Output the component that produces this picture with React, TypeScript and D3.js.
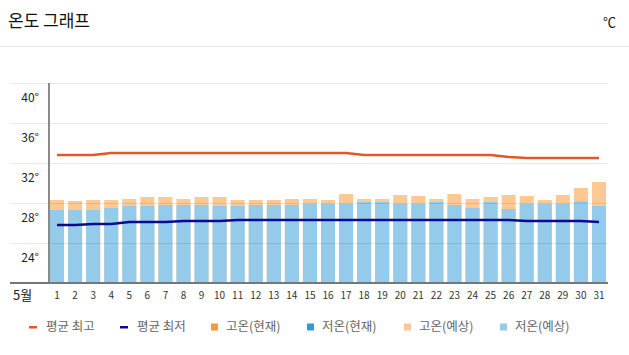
import React from "react";
import * as d3 from "d3";

const days = d3.range(1, 32).map(String);
const highForecast = [29.8, 29.7, 29.8, 29.8, 29.9, 30.1, 30.1, 29.9, 30.1, 30.1, 29.8, 29.8, 29.8, 29.9, 29.9, 29.8, 30.4, 29.9, 29.9, 30.3, 30.2, 29.9, 30.4, 29.9, 30.1, 30.3, 30.2, 29.8, 30.3, 31.0, 31.6];
const lowForecast = [28.8, 28.8, 28.8, 29.0, 29.2, 29.2, 29.3, 29.3, 29.3, 29.2, 29.2, 29.3, 29.3, 29.3, 29.4, 29.4, 29.4, 29.6, 29.6, 29.4, 29.4, 29.6, 29.3, 29.0, 29.6, 28.9, 29.4, 29.4, 29.4, 29.7, 29.2];
const avgMax = [34.3, 34.3, 34.3, 34.5, 34.5, 34.5, 34.5, 34.5, 34.5, 34.5, 34.5, 34.5, 34.5, 34.5, 34.5, 34.5, 34.5, 34.3, 34.3, 34.3, 34.3, 34.3, 34.3, 34.3, 34.3, 34.1, 34.0, 34.0, 34.0, 34.0, 34.0];
const avgMin = [27.3, 27.3, 27.4, 27.4, 27.6, 27.6, 27.6, 27.7, 27.7, 27.7, 27.8, 27.8, 27.8, 27.8, 27.8, 27.8, 27.8, 27.8, 27.8, 27.8, 27.8, 27.8, 27.8, 27.8, 27.8, 27.8, 27.7, 27.7, 27.7, 27.7, 27.6];
const yTicks = [40, 36, 32, 28, 24];
const gridValues = [41.5, 37.5, 33.5, 29.5, 25.5];
const yDomain = [21.5, 41.5];
const monthLabel = "5월";
const title = "온도 그래프";
const unit = "℃";
const legendItems = [
  { label: "평균 최고", color: "#e0592a", kind: "line" },
  { label: "평균 최저", color: "#0a0a8c", kind: "line" },
  { label: "고온(현재)", color: "#f7993b", kind: "rect" },
  { label: "저온(현재)", color: "#2f9ad6", kind: "rect" },
  { label: "고온(예상)", color: "#fdc892", kind: "rect" },
  { label: "저온(예상)", color: "#94cbea", kind: "rect" },
];

const W = 629, H = 355;
const font = "'Noto Sans CJK KR', 'Noto Sans', sans-serif";

export default function App() {
  const x = d3.scaleBand().domain(days).range([48, 608]).paddingInner(4 / 18).paddingOuter(2 / 18);
  const y = d3.scaleLinear().domain(yDomain).range([283, 83]);
  const cx = (i: number) => (x(days[i]) as number) + x.bandwidth() / 2;
  const line = d3.line<number>().x((_, i) => cx(i)).y((d) => y(d));
  const legendX = [29, 120, 211, 307, 404, 500];

  return (
    <svg width={W} height={H} style={{ position: "absolute", left: 0, top: 0, fontFamily: font }}>
      <rect width={W} height={H} fill="#fff" />
      <text x={8} y={27} fontSize={17} fill="#111">{title}</text>
      <text x={616} y={27} fontSize={13} fill="#111" textAnchor="end">{unit}</text>
      <line x1={0} x2={W} y1={46.5} y2={46.5} stroke="#e3e3e3" />

      {days.map((d, i) => (
        <g key={d}>
          <rect x={x(d)} width={x.bandwidth()} y={y(highForecast[i])} height={y(yDomain[0]) - y(highForecast[i])} fill="#fdc892" />
          <rect x={x(d)} width={x.bandwidth()} y={y(lowForecast[i])} height={y(yDomain[0]) - y(lowForecast[i])} fill="#94cbea" />
        </g>
      ))}

      {gridValues.map((g) => (
        <line key={g} x1={10} x2={608} y1={y(g) + 0.5} y2={y(g) + 0.5} stroke="#000" strokeOpacity={0.09} />
      ))}

      {yTicks.map((t) => (
        <text key={t} x={39} y={y(t)} dy="0.35em" fontSize={12} fill="#222" textAnchor="end">{t}°</text>
      ))}

      <line x1={49} x2={49} y1={y(yDomain[1])} y2={y(yDomain[0])} stroke="#8a8a8a" strokeWidth={2} />
      <line x1={10} x2={608} y1={y(yDomain[0])} y2={y(yDomain[0])} stroke="#777" strokeWidth={2} />

      <path d={line(avgMax) || ""} fill="none" stroke="#e0592a" strokeWidth={2.5} />
      <path d={line(avgMin) || ""} fill="none" stroke="#0a0a8c" strokeWidth={2.5} />

      <text x={13} y={295} dy="0.35em" fontSize={13} fill="#222">{monthLabel}</text>
      {days.map((d, i) => (
        <text key={d} x={cx(i)} y={295} dy="0.35em" fontSize={10} fill="#333" textAnchor="middle">{d}</text>
      ))}

      {legendItems.map((it, i) => (
        <g key={it.label} transform={`translate(${legendX[i]},327)`}>
          {it.kind === "line" ? (
            <rect x={0} y={-1} width={8} height={2.5} fill={it.color} />
          ) : (
            <rect x={0} y={-3.5} width={7} height={7} fill={it.color} />
          )}
          <text x={it.kind === "line" ? 17 : 15} y={0} dy="0.35em" fontSize={12.5} fill="#666">{it.label}</text>
        </g>
      ))}
    </svg>
  );
}
